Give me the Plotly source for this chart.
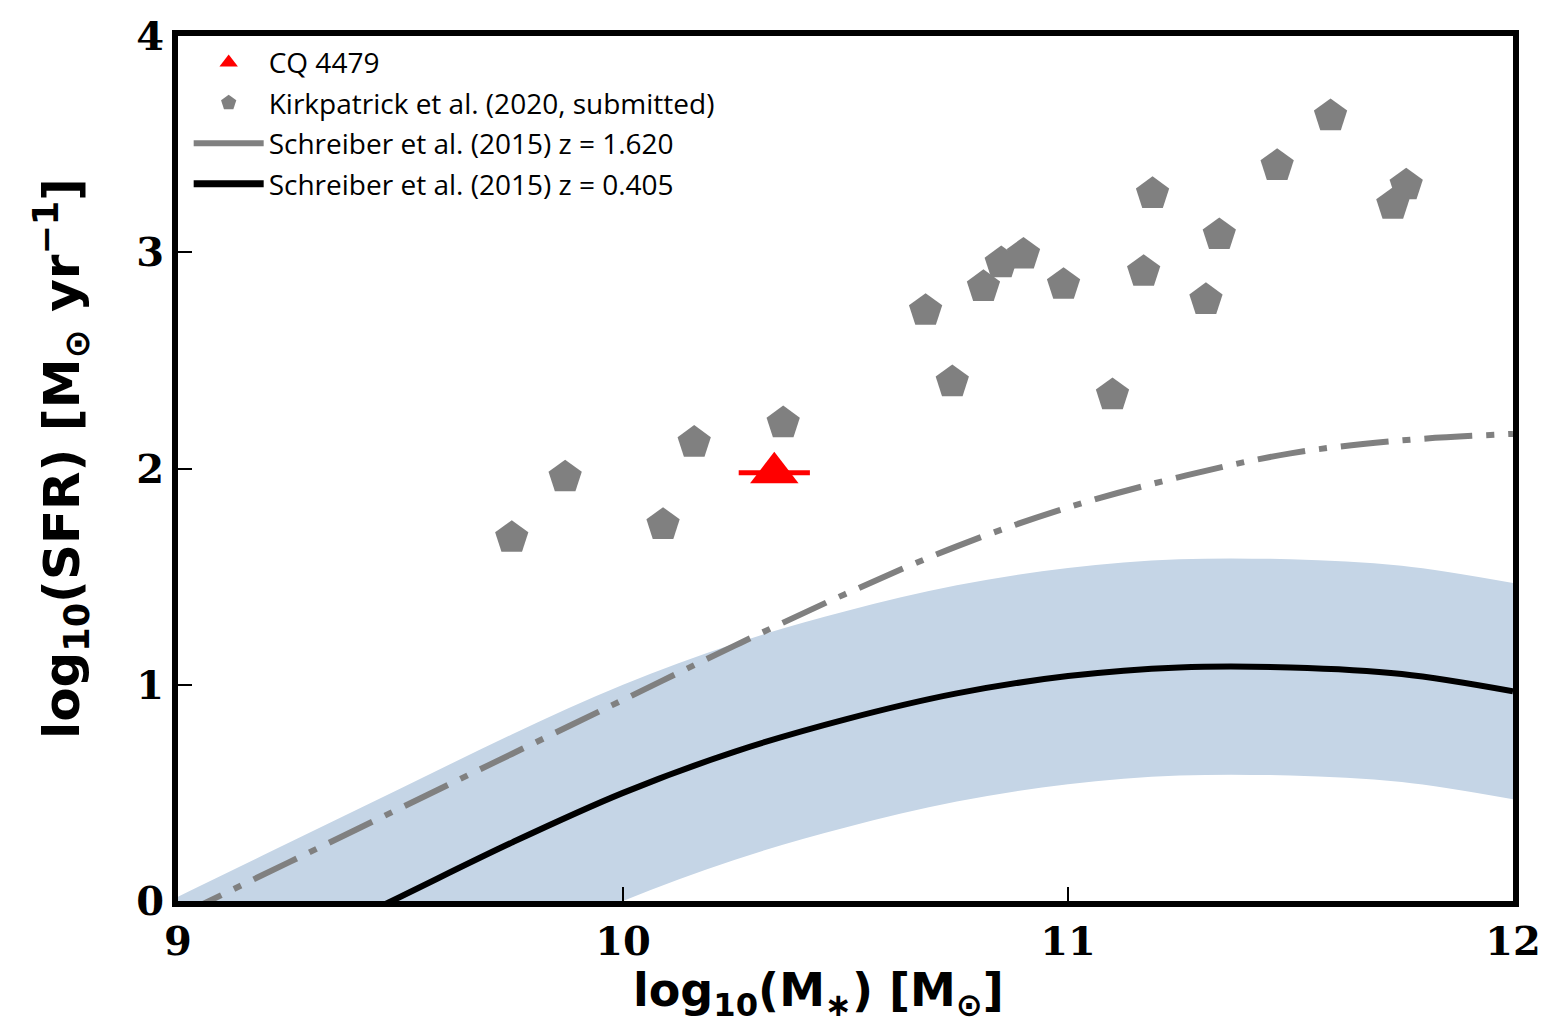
import plotly.graph_objects as go

# ---- data ----
mass_grid = [9.0, 9.25, 9.5, 9.75, 10.0, 10.25, 10.5, 10.75, 11.0, 11.25, 11.5, 11.75, 12.0]
ms_z0405 = [-0.48, -0.23, 0.02, 0.27, 0.50, 0.69, 0.84, 0.96, 1.04, 1.08, 1.08, 1.05, 0.97]
band_upper = [0.02, 0.27, 0.52, 0.77, 1.00, 1.19, 1.34, 1.46, 1.54, 1.58, 1.58, 1.55, 1.47]
band_lower = [-0.98, -0.73, -0.48, -0.23, 0.00, 0.19, 0.34, 0.46, 0.54, 0.58, 0.58, 0.55, 0.47]
ms_z1620 = [-0.07, 0.18, 0.43, 0.68, 0.93, 1.18, 1.42, 1.64, 1.82, 1.96, 2.07, 2.13, 2.16]

kirk_mass = [9.75, 9.87, 10.09, 10.16, 10.36, 10.68, 10.74, 10.81, 10.85, 10.90,
             10.99, 11.10, 11.17, 11.19, 11.31, 11.34, 11.47, 11.59, 11.73, 11.76]
kirk_sfr = [1.68, 1.96, 1.74, 2.12, 2.21, 2.73, 2.40, 2.84, 2.95, 2.99,
            2.85, 2.34, 2.91, 3.27, 2.78, 3.08, 3.40, 3.63, 3.22, 3.31]

cq_mass = [10.34]
cq_sfr = [1.98]
cq_mass_err = [0.08]

x_ticks = [9, 10, 11, 12]
y_ticks = [0, 1, 2, 3, 4]

x_title = "<b>log<sub>10</sub>(M<sub>∗</sub>) [M<sub>⊙</sub>]</b>"
y_title = "<b>log<sub>10</sub>(SFR) [M<sub>⊙</sub> yr<sup>−1</sup>]</b>"

GRAY = "rgb(128,128,128)"
BAND = "rgb(197,213,230)"

fig = go.Figure()

# shaded scatter band
fig.add_trace(go.Scatter(x=mass_grid, y=band_lower, mode="lines", line=dict(width=0, shape="spline"),
                         showlegend=False, hoverinfo="skip"))
fig.add_trace(go.Scatter(x=mass_grid, y=band_upper, mode="lines", line=dict(width=0, shape="spline"),
                         fill="tonexty", fillcolor=BAND, showlegend=False, hoverinfo="skip"))

# z = 1.620 dash-dot line
fig.add_trace(go.Scatter(x=mass_grid, y=ms_z1620, mode="lines",
                         line=dict(color=GRAY, width=6, dash="48px,14px,8px,14px", shape="spline"),
                         showlegend=False))
# z = 0.405 solid line
fig.add_trace(go.Scatter(x=mass_grid, y=ms_z0405, mode="lines",
                         line=dict(color="black", width=6, shape="spline"),
                         showlegend=False))

# Kirkpatrick points
fig.add_trace(go.Scatter(x=kirk_mass, y=kirk_sfr, mode="markers",
                         marker=dict(symbol="pentagon", size=35, color=GRAY, line=dict(width=0)),
                         showlegend=False))
# CQ 4479
fig.add_trace(go.Scatter(x=cq_mass, y=cq_sfr, mode="markers",
                         marker=dict(symbol="triangle-up", size=42, color="red", line=dict(width=0)),
                         error_x=dict(type="data", array=cq_mass_err, color="red", thickness=5, width=0),
                         showlegend=False))

# legend entries
fig.add_trace(go.Scatter(x=[None], y=[None], mode="markers", name="CQ 4479", legendgroup="a",
                         marker=dict(symbol="triangle-up", size=40, color="red")))
fig.add_trace(go.Scatter(x=[None], y=[None], mode="markers", name="Kirkpatrick et al. (2020, submitted)",
                         legendgroup="b", marker=dict(symbol="pentagon", size=34, color=GRAY)))
fig.add_trace(go.Scatter(x=[None], y=[None], mode="lines", name="Schreiber et al. (2015) z = 1.620",
                         legendgroup="c", line=dict(color=GRAY, width=6)))
fig.add_trace(go.Scatter(x=[None], y=[None], mode="lines", name="Schreiber et al. (2015) z = 0.405",
                         legendgroup="d", line=dict(color="black", width=7)))

axis_common = dict(
    showline=True, linecolor="black", linewidth=6, mirror=True,
    ticks="inside", ticklen=14, tickwidth=2, tickcolor="black",
    showgrid=False, zeroline=False, automargin=False,
    tickfont=dict(family="DejaVu Serif", size=40, color="black", weight="bold"),
)

fig.update_layout(
    width=1547, height=1023,
    margin=dict(l=170, r=42, t=28, b=130),
    paper_bgcolor="white", plot_bgcolor="white",
    showlegend=True,
    legend=dict(x=0.008, y=0.998, xanchor="left", yanchor="top",
                bgcolor="rgba(0,0,0,0)", borderwidth=0,
                font=dict(family="Open Sans", size=28, color="black"),
                traceorder="grouped", itemwidth=70, tracegroupgap=1),
    xaxis=dict(range=[9, 12], tickvals=x_ticks, ticktext=[str(v) for v in x_ticks], **axis_common),
    yaxis=dict(range=[0, 4], tickvals=y_ticks, ticktext=[str(v) for v in y_ticks], **axis_common),
)

# axis titles as annotations for precise placement
fig.add_annotation(text=x_title, xref="paper", yref="paper", x=0.48, y=-0.107,
                   xanchor="center", yanchor="middle", showarrow=False,
                   font=dict(family="DejaVu Sans", size=46, color="black"))
fig.add_annotation(text=y_title, xref="paper", yref="paper", x=-0.087, y=0.512,
                   xanchor="center", yanchor="middle", showarrow=False, textangle=-90,
                   font=dict(family="DejaVu Sans", size=50, color="black"))

fig.write_html("out.html")
